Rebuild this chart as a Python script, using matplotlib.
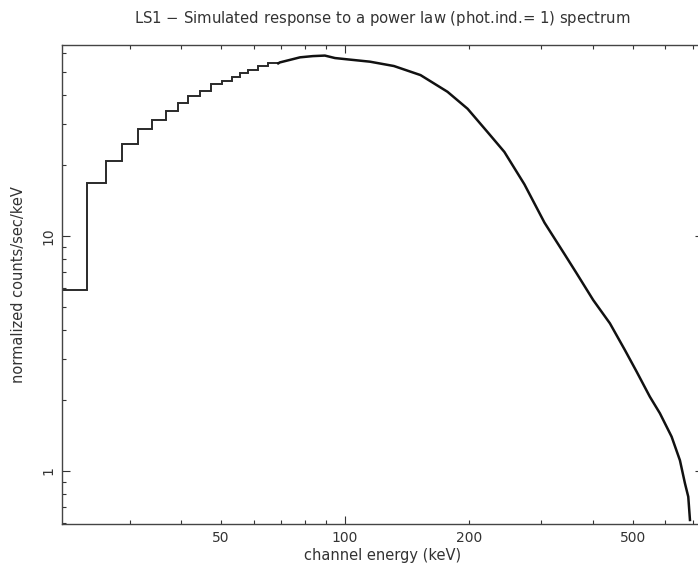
import numpy as np
import matplotlib
matplotlib.use('Agg')
import matplotlib.pyplot as plt
from matplotlib.ticker import LogLocator, FuncFormatter, NullFormatter

plt.rc('font', family='DejaVu Sans', size=10.5)

# low energy channels (bin edges in keV) and their rates
bin_edges = [20.57, 23.6, 26.3, 28.8, 31.4, 34.1, 36.8, 39.3, 41.7, 44.5,
             47.3, 50.2, 53.1, 55.6, 58.3, 61.6, 65.1, 68.9]
bin_rates = [5.9, 16.8, 20.9, 24.6, 28.5, 31.2, 34.0, 36.7, 39.5, 41.4,
             44.2, 45.8, 47.6, 49.2, 50.9, 52.9, 54.3]

# higher energy part, where the channels are too narrow to see as steps
energy = [68.9, 69.5, 74.8, 77.8, 83.6, 89.4, 94.6, 101.1, 115.0, 131.5,
          152.6, 177.4, 198.5, 221.9, 243.8, 272.7, 305.1, 341.6, 365.1,
          400.6, 439.8, 478.3, 510.5, 549.9, 581.6, 620.9, 650.5, 669.0,
          681.5, 688.0]
rate = [54.3, 54.8, 56.6, 57.6, 58.3, 58.6, 57.2, 56.5, 55.2, 52.9,
        48.4, 41.1, 34.8, 27.7, 22.8, 16.6, 11.4, 8.35, 6.94,
        5.34, 4.25, 3.27, 2.65, 2.07, 1.76, 1.40, 1.11, 0.886,
        0.777, 0.619]

x_labelled = [50, 100, 200, 500]

fig = plt.figure(figsize=(6.98, 5.67), dpi=100)
ax = fig.add_axes([62/698, 1 - 524/567, 641/698, 479/567])

ax.stairs(bin_rates, bin_edges, baseline=None, color='#2a2a2a', lw=1.4)
ax.plot(energy, rate, color='#111111', lw=1.8)

ax.set_xscale('log')
ax.set_yscale('log')
ax.set_xlim(20.57, 740)
ax.set_ylim(0.595, 65)

ax.xaxis.set_major_locator(LogLocator(base=10))
ax.xaxis.set_minor_locator(LogLocator(base=10, subs=np.arange(2, 10)))
lab = FuncFormatter(lambda v, p: '%g' % v if round(v) in x_labelled else '')
ax.xaxis.set_major_formatter(lab)
ax.xaxis.set_minor_formatter(lab)

ax.yaxis.set_major_locator(LogLocator(base=10))
ax.yaxis.set_minor_locator(LogLocator(base=10, subs=np.arange(2, 10)))
ax.yaxis.set_major_formatter(FuncFormatter(lambda v, p: '%g' % v))
ax.yaxis.set_minor_formatter(NullFormatter())

ax.tick_params(which='both', direction='in', top=True, right=True,
               colors='#333333', width=0.8, labelsize=10)
ax.tick_params(which='major', length=6, pad=5)
ax.tick_params(which='minor', length=3, pad=5)
for t in ax.get_yticklabels():
    t.set_rotation(90)
    t.set_va('center')

for s in ax.spines.values():
    s.set_color('#444444')
    s.set_linewidth(1.0)

ax.set_xlabel('channel energy (keV)', color='#333333', labelpad=2)
ax.set_ylabel('normalized counts/sec/keV', color='#333333', labelpad=11)
ax.set_title('LS1 $-$ Simulated response to a power law (phot.ind.= 1) spectrum',
             color='#333333', fontsize=10.7, pad=16)

fig.savefig('out.png', dpi=100)
